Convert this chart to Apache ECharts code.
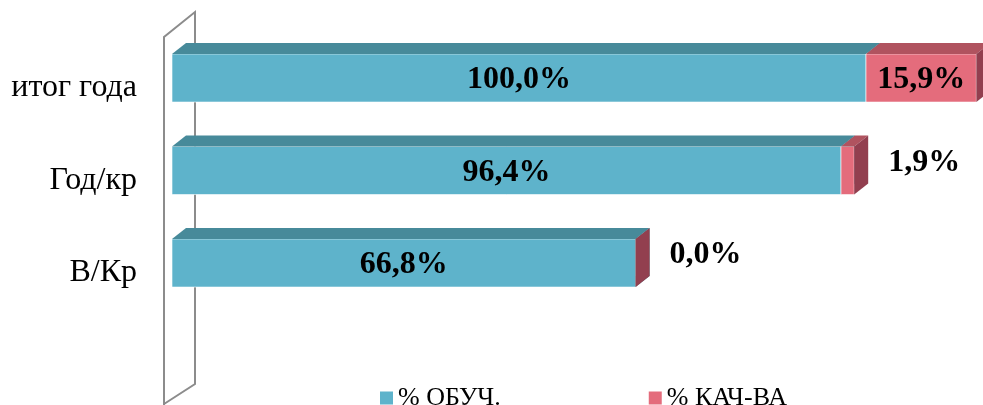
<!DOCTYPE html>
<html>
<head>
<meta charset="utf-8">
<script src="https://cdn.jsdelivr.net/npm/echarts@6/dist/echarts.min.js"></script>
<style>
  html, body { margin: 0; padding: 0; background: #fff; }
  #chart { width: 983px; height: 405px; }
</style>
</head>
<body>
<div id="chart"></div>
<script>
// данные
var categories = ['В/Кр', 'Год/кр', 'итог года'];
var obuch = [66.8, 96.4, 100.0];   // % ОБУЧ.
var kach = [0.0, 1.9, 15.9];       // % КАЧ-ВА
var seriesNames = ['% ОБУЧ.', '% КАЧ-ВА'];

var DX = 14, DY = 11;

function fmt(v) {
    return v.toFixed(1).replace('.', ',') + '%';
}

// цвета граней: фронт, верх, бок
var faces = [
    {front: '#5eb3cb', top: '#478a9a', side: '#3f7d8c'},
    {front: '#e46c7c', top: '#b0535f', side: '#923f4f'}
];

function makeRender(faceIdx, labelInside) {
    return function (params, api) {
        var cat = api.value(0);
        var start = api.value(1);
        var end = api.value(2);
        var val = api.value(3);
        var p0 = api.coord([start, cat]);
        var p1 = api.coord([end, cat]);
        var h = api.size([0, 1])[1] * 0.52;
        var x0 = p0[0], x1 = p1[0];
        var y0 = p0[1] - h / 2, y1 = p0[1] + h / 2;
        var c = faces[faceIdx];
        var children = [];
        if (x1 - x0 > 0) {
            children.push({
                type: 'rect',
                shape: {x: x0, y: y0, width: x1 - x0, height: h},
                style: {fill: c.front, stroke: 'rgba(255,255,255,0.6)', lineWidth: 1}
            });
            children.push({
                type: 'polygon',
                shape: {points: [[x0, y0], [x0 + DX, y0 - DY], [x1 + DX, y0 - DY], [x1, y0]]},
                style: {fill: c.top}
            });
        }
        children.push({
            type: 'polygon',
            shape: {points: [[x1, y0], [x1 + DX, y0 - DY], [x1 + DX, y1 - DY], [x1, y1]]},
            style: {fill: c.side}
        });
        var inside = labelInside(params.dataIndex);
        children.push({
            type: 'text',
            x: inside ? (x0 + x1) / 2 : x1 + DX + 20,
            y: inside ? p0[1] + 2 : p0[1] - 8,
            style: {
                text: fmt(val),
                fill: '#000',
                font: 'bold 32px "Liberation Serif", serif',
                align: inside ? 'center' : 'left',
                verticalAlign: 'middle'
            }
        });
        return {type: 'group', children: children};
    };
}

var data1 = categories.map(function (c, i) { return [i, 0, obuch[i], obuch[i]]; });
var data2 = categories.map(function (c, i) { return [i, obuch[i], obuch[i] + kach[i], kach[i]]; });

var chart = echarts.init(document.getElementById('chart'));

var option = {
    animation: false,
    grid: {left: 172, top: 31.75, width: 798.1, height: 277.5},
    legend: {
        left: 375,
        top: 380,
        itemWidth: 13,
        itemHeight: 13,
        itemGap: 148,
        icon: 'rect',
        textStyle: {fontFamily: 'Liberation Serif', fontSize: 26, color: '#000'},
        data: seriesNames
    },
    xAxis: {
        type: 'value', min: 0, max: 115,
        show: false
    },
    yAxis: {
        type: 'category',
        data: categories,
        axisLine: {show: false},
        axisTick: {show: false},
        axisLabel: {
            margin: 35,
            fontFamily: 'Liberation Serif',
            fontSize: 32,
            color: '#000',
            verticalAlign: 'top',
            lineHeight: 20
        }
    },
    graphic: [{
        type: 'polyline',
        z: 0,
        shape: {points: [[164, 405], [164, 37], [195, 12], [195, 384], [164, 404]]},
        style: {stroke: '#8c8c8c', lineWidth: 2, fill: null}
    }],
    series: [
        {
            name: seriesNames[0],
            type: 'custom',
            clip: false,
            itemStyle: {color: faces[0].front},
            encode: {x: [1, 2], y: 0},
            renderItem: makeRender(0, function () { return true; }),
            data: data1,
            z: 2
        },
        {
            name: seriesNames[1],
            type: 'custom',
            clip: false,
            itemStyle: {color: faces[1].front},
            encode: {x: [1, 2], y: 0},
            renderItem: makeRender(1, function (i) { return kach[i] > 10; }),
            data: data2,
            z: 3
        }
    ]
};

chart.setOption(option);
</script>
</body>
</html>
